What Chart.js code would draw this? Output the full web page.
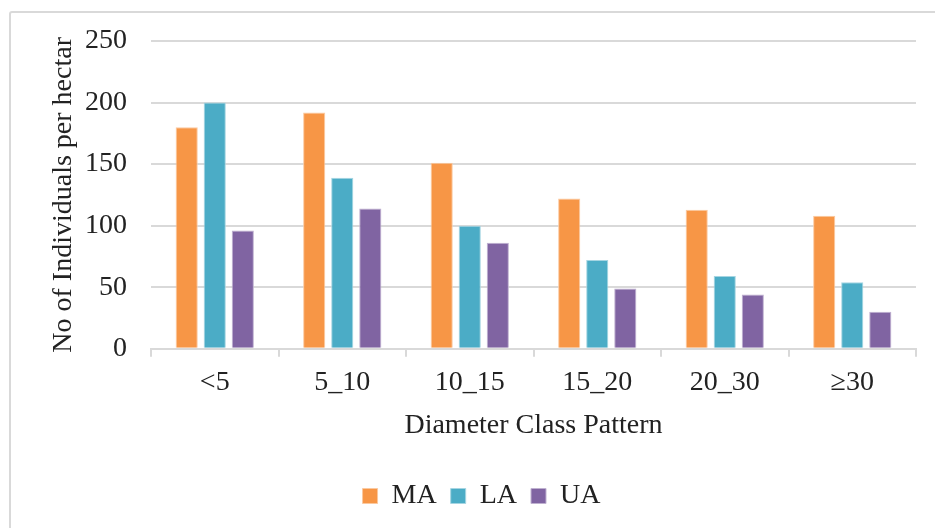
<!DOCTYPE html>
<html>
<head>
<meta charset="utf-8">
<script src="https://cdn.jsdelivr.net/npm/chart.js@4/dist/chart.umd.min.js"></script>
<style>
  html, body { margin: 0; padding: 0; background: #fff; overflow: hidden; }
  #frame { position: absolute; left: 9px; top: 11px; width: 960px; height: 560px; border: 2px solid #d9d9d9; border-radius: 3px; }
  #wrap { position: absolute; left: 0; top: 0; width: 935px; height: 528px; }
</style>
</head>
<body>
<div id="frame"></div>
<div id="wrap"><canvas id="barChart" width="935" height="528"></canvas></div>
<script>
// categories de diametre
const categories = ['<5', '5_10', '10_15', '15_20', '20_30', '\u226530'];
// valeurs par zone
const maValues = [180, 192, 151, 122, 113, 108];
const laValues = [200, 139, 100, 72, 59, 54];
const uaValues = [96, 114, 86, 49, 44, 30];
const yTicks = [0, 50, 100, 150, 200, 250];

const serif = "'Liberation Serif', 'Times New Roman', serif";
const padLeft = 47;

const ctx = document.getElementById('barChart').getContext('2d');
new Chart(ctx, {
  type: 'bar',
  data: {
    labels: categories,
    datasets: [
      { label: 'MA', data: maValues, backgroundColor: '#F79646', borderColor: '#fbc9a0', borderWidth: 1 },
      { label: 'LA', data: laValues, backgroundColor: '#4BACC6', borderColor: '#a5d5e2', borderWidth: 1 },
      { label: 'UA', data: uaValues, backgroundColor: '#8064A2', borderColor: '#bfb1d0', borderWidth: 1 }
    ]
  },
  options: {
    responsive: false,
    animation: false,
    layout: { padding: { left: padLeft, right: 19, top: 41, bottom: 8 } },
    datasets: { bar: { categoryPercentage: 0.66, barPercentage: 0.79 } },
    plugins: {
      tooltip: { enabled: false },
      legend: {
        position: 'bottom',
        labels: {
          font: { family: serif, size: 28 },
          color: '#222',
          boxWidth: 15,
          boxHeight: 15,
          padding: 14
        }
      }
    },
    scales: {
      x: {
        grid: { drawOnChartArea: false, drawTicks: true, tickLength: 8, color: '#d9d9d9', lineWidth: 2, offset: true },
        border: { color: '#d9d9d9', width: 2 },
        ticks: { font: { family: serif, size: 28, lineHeight: 1.06 }, color: '#222', padding: 11, maxRotation: 0 },
        title: { display: true, text: 'Diameter Class Pattern', font: { family: serif, size: 28 }, color: '#222', padding: { top: 0, bottom: 26 } }
      },
      y: {
        min: 0,
        max: 250,
        afterBuildTicks: scale => { scale.ticks = yTicks.map(v => ({ value: v })); },
        afterFit: scale => { scale.width = 151 - padLeft; },
        grid: { drawTicks: false, color: '#d9d9d9', lineWidth: 2 },
        border: { display: false },
        ticks: { font: { family: serif, size: 28 }, color: '#222', padding: 24 },
        title: { display: true, text: 'No of Individuals per hectar', font: { family: serif, size: 28 }, color: '#222', padding: 0 }
      }
    }
  }
});
</script>
</body>
</html>
